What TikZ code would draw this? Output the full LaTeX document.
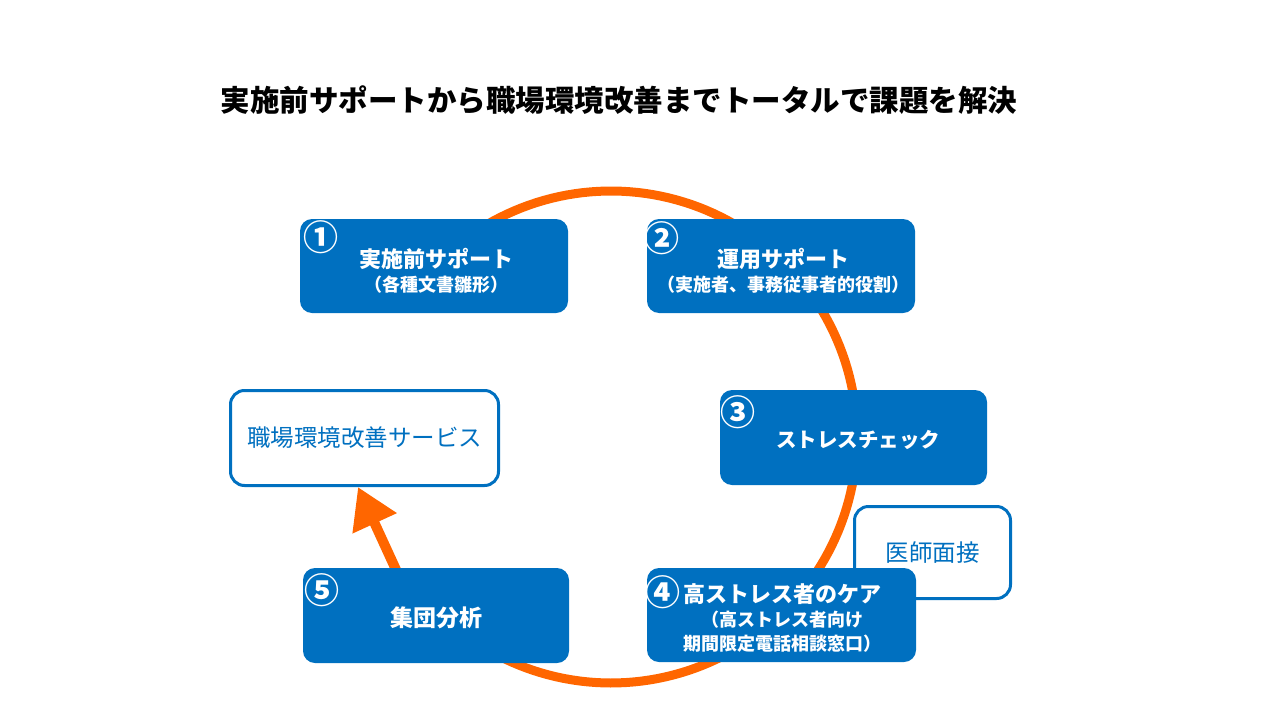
\documentclass[tikz,border=0pt]{standalone}
\usepackage{fontspec}
\setmainfont{Noto Sans CJK JP}
\usetikzlibrary{arrows.meta,positioning}
\definecolor{cblue}{HTML}{0070C0}
\definecolor{corange}{HTML}{FF6600}
\def\cx{611}
\def\cy{437}
\def\rr{246}
\newcommand{\subtxt}[1]{{\fontsize{18}{20}\selectfont #1}}

\begin{document}
\begin{tikzpicture}[x=1pt, y=-1pt, >=Stealth, line join=round,
  stepbox/.style={fill=cblue, rounded corners=12pt, inner sep=0pt,
                  minimum width=268pt, minimum height=94pt},
  boxtext/.style={text=white, align=center, inner sep=0pt,
                  font=\bfseries\fontsize{22}{24}\selectfont},
  numtxt/.style={text=white, inner sep=0pt,
                 font=\bfseries\fontsize{35}{35}\selectfont},
  outbox/.style={draw=cblue, line width=3pt, fill=white,
                 rounded corners=14pt, text=cblue, inner sep=0pt,
                 font=\fontsize{23.5}{26}\selectfont},
  ring/.style={corange, line width=9pt},
  flow/.style={corange, line width=10pt,
               -{Triangle[length=40pt,width=46pt]}}]
\useasboundingbox (0,0) rectangle (1280,720);

% =================== title ===================
\node[font=\bfseries\fontsize{29.5}{32}\selectfont] (title) at (619,100)
  {実施前サポートから職場環境改善までトータルで課題を解決};

% =================== the cycle (behind the boxes) ===================
\draw[ring] plot[samples=160, domain=214:505]
  ({\cx+\rr*cos(\x)},{\cy+\rr*sin(\x)});

% =================== side boxes ===================
\node[outbox, minimum width=268pt, minimum height=95pt] (svc) at (364.5,438)
  {職場環境改善サービス};
\node[outbox, minimum width=156pt, minimum height=92pt] (doc) at (932.5,552.5)
  {医師面接};

% arrow from group analysis up to the service box
\coordinate (tail) at (403,585);
\draw[flow] (tail) -- ([xshift=-6.5pt]svc.south);

% =================== five steps ===================
\node[stepbox] (pre) at (434,266) {};
\node[boxtext] (preT) at (436,271) {実施前サポート\\\subtxt{（各種文書雛形）}};
\node[numtxt] (n1) at (321,237) {①};

\node[stepbox] (ops) at (781,266) {};
\node[boxtext] (opsT) at (783,271)
  {運用サポート\\\subtxt{（実施者、事務従事者的役割）}};
\node[numtxt] (n2) at (662,238) {②};

\node[stepbox, minimum width=267pt, minimum height=95pt] (chk) at (853.5,437.5) {};
\node[boxtext, font=\bfseries\fontsize{20.5}{24}\selectfont] (chkT) at (858,440)
  {ストレスチェック};
\node[numtxt] (n3) at (738,412) {③};

\node[stepbox, minimum width=269pt] (care) at (781.5,615) {};
\node[boxtext] (careT) at (782,618)
  {高ストレス者のケア\\\subtxt{（高ストレス者向け}\\\subtxt{期間限定電話相談窓口）}};
\node[numtxt] (n4) at (663,592) {④};

\node[stepbox, minimum width=266pt, minimum height=95pt] (grp) at (436,615.5) {};
\node[boxtext, font=\bfseries\fontsize{23}{24}\selectfont] (grpT) at (436,618)
  {集団分析};
\node[numtxt] (n5) at (322,590) {⑤};

\end{tikzpicture}
\end{document}
